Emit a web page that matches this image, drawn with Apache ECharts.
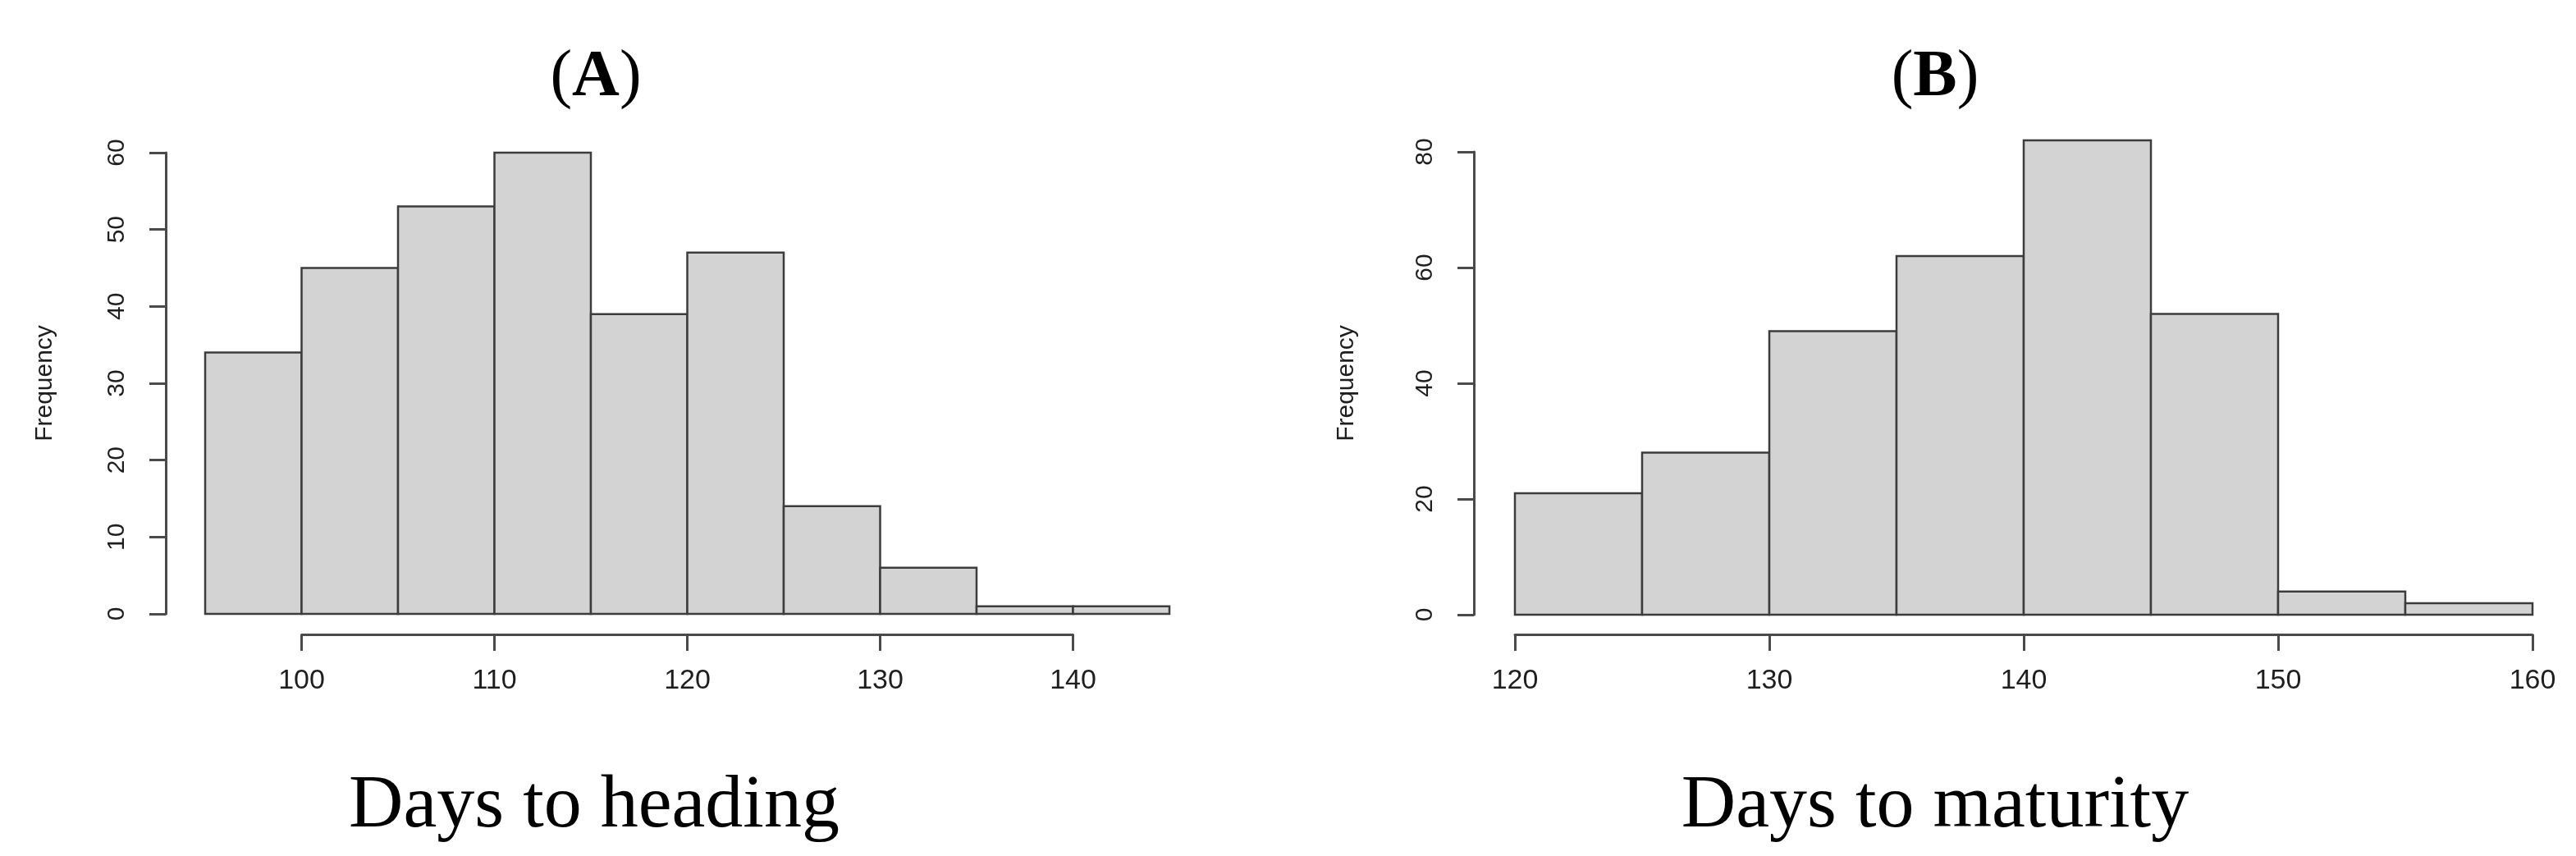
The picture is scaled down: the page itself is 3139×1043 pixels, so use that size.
<!DOCTYPE html>
<html><head><meta charset="utf-8">
<script src="https://cdn.jsdelivr.net/npm/echarts@6/dist/echarts.min.js"></script>
<style>html,body{margin:0;padding:0;background:#fff}#c{width:3139px;height:1043px}</style>
</head><body><div id="c"></div>
<script>
// ---- data ----
const binStartA = [95, 100, 105, 110, 115, 120, 125, 130, 135, 140];
const countsA   = [34, 45, 53, 60, 39, 47, 14, 6, 1, 1];
const binStartB = [120, 125, 130, 135, 140, 145, 150, 155];
const countsB   = [21, 28, 49, 62, 82, 52, 4, 2];
const binWidth  = 5;
const xTicksA = [100, 110, 120, 130, 140];
const yTicksA = [0, 10, 20, 30, 40, 50, 60];
const xTicksB = [120, 130, 140, 150, 160];
const yTicksB = [0, 20, 40, 60, 80];
const panelTitles = ['A', 'B'];
const captions = ['Days to heading', 'Days to maturity'];
const yName = 'Frequency';

// ---- styles ----
const AXIS_COLOR = '#4a4a4a';
const LABEL_COLOR = '#1e1e1e';
const SANS = 'Liberation Sans, Arial, sans-serif';
const SERIF = 'Liberation Serif, Times New Roman, serif';

function histData(starts, counts) {
  return starts.map((s, i) => [s, s + binWidth, counts[i]]);
}
function renderBar(params, api) {
  const p0 = api.coord([api.value(0), api.value(2)]);
  const p1 = api.coord([api.value(1), 0]);
  return {
    type: 'rect',
    shape: { x: p0[0], y: p0[1], width: p1[0] - p0[0], height: p1[1] - p0[1] },
    style: { fill: '#d3d3d3', stroke: '#3c3c3c', lineWidth: 2.5 }
  };
}
function yAxisVisible(gridIndex, ticks, offset, nameGap) {
  return {
    type: 'value', gridIndex, min: ticks[0], max: ticks[ticks.length - 1],
    interval: ticks[1] - ticks[0], offset,
    name: yName, nameLocation: 'middle', nameRotate: 90, nameGap,
    nameTextStyle: { fontFamily: SANS, fontSize: 30, color: LABEL_COLOR },
    axisLine: { show: true, lineStyle: { color: AXIS_COLOR, width: 3 } },
    axisTick: { show: true, inside: false, length: 20, lineStyle: { color: AXIS_COLOR, width: 3 } },
    axisLabel: { rotate: 90, margin: 44, fontFamily: SANS, fontSize: 30, color: LABEL_COLOR },
    splitLine: { show: false }
  };
}
function xAxisVisible(gridIndex, ticks) {
  return {
    type: 'value', gridIndex, min: ticks[0], max: ticks[ticks.length - 1],
    interval: ticks[1] - ticks[0], position: 'bottom',
    axisLine: { show: true, lineStyle: { color: AXIS_COLOR, width: 3 } },
    axisTick: { show: true, inside: false, length: 20, lineStyle: { color: AXIS_COLOR, width: 3 } },
    axisLabel: { margin: 40, fontFamily: SANS, fontSize: 34, color: LABEL_COLOR },
    splitLine: { show: false }
  };
}

const chart = echarts.init(document.getElementById('c'), null, { renderer: 'canvas' });
const titleRich = {
  p: { fontFamily: SERIF, fontSize: 80, color: '#000', fontWeight: 'normal' },
  b: { fontFamily: SERIF, fontSize: 80, color: '#000', fontWeight: 'bold' }
};
const capStyle = { fontFamily: SERIF, fontSize: 92, fontWeight: 'normal', color: '#000' };
chart.setOption({
  animation: false,
  backgroundColor: '#fff',
  title: [
    { text: '{p|(}{b|' + panelTitles[0] + '}{p|)}', left: 726, top: 55, textAlign: 'center', padding: 0, textStyle: { rich: titleRich } },
    { text: '{p|(}{b|' + panelTitles[1] + '}{p|)}', left: 2358, top: 55, textAlign: 'center', padding: 0, textStyle: { rich: titleRich } },
    { text: captions[0], left: 724, top: 937, textAlign: 'center', padding: 0, textStyle: capStyle },
    { text: captions[1], left: 2358, top: 937, textAlign: 'center', padding: 0, textStyle: capStyle }
  ],
  grid: [
    { left: 250, top: 186, width: 1175, height: 562 },     // A bars
    { left: 367.5, top: 748, width: 940, height: 25 },     // A x axis
    { left: 1846, top: 185, width: 1240, height: 564 },    // B bars
    { left: 1846, top: 749, width: 1240, height: 24 }      // B x axis
  ],
  xAxis: [
    { type: 'value', gridIndex: 0, min: binStartA[0], max: binStartA[binStartA.length - 1] + binWidth, show: false },
    xAxisVisible(1, xTicksA),
    { type: 'value', gridIndex: 2, min: binStartB[0], max: binStartB[binStartB.length - 1] + binWidth, show: false },
    xAxisVisible(3, xTicksB)
  ],
  yAxis: [
    yAxisVisible(0, yTicksA, 48, 132),
    { type: 'value', gridIndex: 1, min: 0, max: 1, show: false },
    yAxisVisible(2, yTicksB, 50, 140),
    { type: 'value', gridIndex: 3, min: 0, max: 1, show: false }
  ],
  series: [
    { type: 'custom', xAxisIndex: 0, yAxisIndex: 0, renderItem: renderBar, clip: false,
      encode: { x: [0, 1], y: 2 }, data: histData(binStartA, countsA) },
    { type: 'custom', xAxisIndex: 2, yAxisIndex: 2, renderItem: renderBar, clip: false,
      encode: { x: [0, 1], y: 2 }, data: histData(binStartB, countsB) }
  ]
});
</script>
</body></html>
